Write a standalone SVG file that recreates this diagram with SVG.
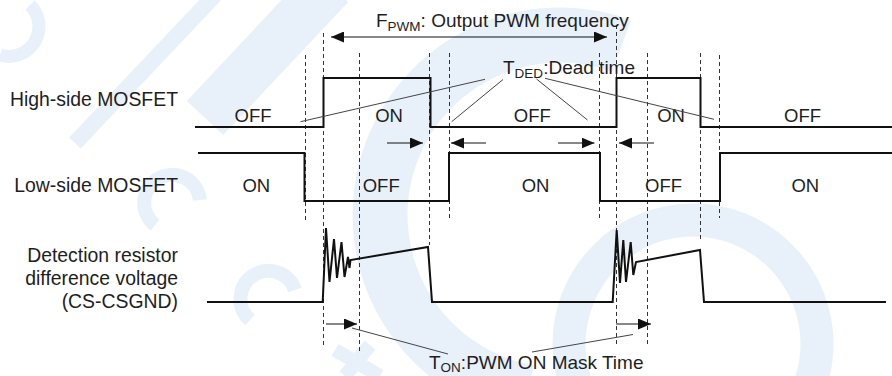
<svg xmlns="http://www.w3.org/2000/svg" width="892" height="376" viewBox="0 0 892 376">
<style>
.wm{fill:none;stroke:#e8f1fa}
.wave{fill:none;stroke:#111;stroke-width:2;stroke-linejoin:miter}
.dash{stroke:#333;stroke-width:1;stroke-dasharray:4 3}
.lead{stroke:#444;stroke-width:1;fill:none}
.arr{stroke:#111;stroke-width:1;fill:none}
text{font-family:"Liberation Sans",Arial,sans-serif;fill:#1e1e1e}
.lbl{font-size:19.4px;text-anchor:end}
.st{font-size:18.5px;text-anchor:middle}
.ann{font-size:19px}
.sub{font-size:13.5px}
</style>
<defs>
<marker id="ah" markerWidth="13" markerHeight="11" refX="13" refY="5.5" orient="auto-start-reverse" markerUnits="userSpaceOnUse"><path d="M0,0 L13,5.5 L0,11 Z" fill="#111"/></marker>
</defs>
<g id="watermark">
<path class="wm" stroke-width="55" d="M528.7,392.3 A180,180 0 1 1 621.6,45.9"/>
<circle class="wm" cx="693" cy="344" r="124" stroke-width="33"/>
<line class="wm" x1="75" y1="143" x2="215" y2="-5" stroke-width="16"/>
<line class="wm" x1="205" y1="118" x2="330" y2="-15" stroke-width="50"/>
<path class="wm" stroke-width="13" d="M0,55 A30,30 0 0 0 30,5"/>
<path class="wm" stroke-width="14" d="M155,225 A28,28 0 1 1 200,200"/>
<path class="wm" stroke-width="14" d="M250,320 A28,28 0 1 1 295,290"/>
<path class="wm" stroke-width="14" d="M335,350 L380,376 M345,376 L370,345"/>
</g>
<g id="labels">
<text class="lbl" x="178" y="106">High-side MOSFET</text>
<text class="lbl" x="178" y="191.5">Low-side MOSFET</text>
<text class="lbl" x="178" y="261.5">Detection resistor</text>
<text class="lbl" x="178" y="285">difference voltage</text>
<text class="lbl" x="178" y="308">(CS-CSGND)</text>
</g>
<g id="guides">
<line class="dash" x1="305.5" y1="55" x2="305.5" y2="220"/>
<line class="dash" x1="323.5" y1="33" x2="323.5" y2="345"/>
<line class="dash" x1="359.5" y1="53" x2="359.5" y2="352"/>
<line class="dash" x1="429.5" y1="53" x2="429.5" y2="245"/>
<line class="dash" x1="449.5" y1="53" x2="449.5" y2="218"/>
<line class="dash" x1="599.5" y1="53" x2="599.5" y2="218"/>
<line class="dash" x1="616.5" y1="25" x2="616.5" y2="345"/>
<line class="dash" x1="647.5" y1="53" x2="647.5" y2="345"/>
<line class="dash" x1="700.5" y1="53" x2="700.5" y2="242"/>
<line class="dash" x1="719.5" y1="55" x2="719.5" y2="218"/>
</g>
<g id="high-side">
<path class="wave" d="M195,127 H323.5 V78 H430.5 V127 H616.5 V78 H700.5 V127 H892"/>
<text class="st" x="253" y="121.7">OFF</text>
<text class="st" x="389" y="121.7">ON</text>
<text class="st" x="532.3" y="121.7">OFF</text>
<text class="st" x="671" y="121.7">ON</text>
<text class="st" x="802.5" y="121.7">OFF</text>
</g>
<g id="low-side">
<path class="wave" d="M198,153 H304.5 V201 H449 V153 H600 V201 H720 V153 H892"/>
<text class="st" x="256.3" y="191.7">ON</text>
<text class="st" x="381.2" y="191.7">OFF</text>
<text class="st" x="535.5" y="191.7">ON</text>
<text class="st" x="663.5" y="191.7">OFF</text>
<text class="st" x="805.3" y="191.7">ON</text>
</g>
<g id="detection">
<path class="wave" stroke-width="1.8" d="M207,302 H322.7 L326,228 L329.5,282 L334,239 L337,278 L341.5,242 L344.5,277 L348,257 L349.5,268 L350.5,260 L428,247 L432,302 H612.7 L616.7,230 L620,283 L623.3,240 L626,282 L630.7,242 L633.3,275 L636,262 L700,250 L704,302 H886"/>
</g>
<g id="connectors">
<path class="arr" d="M331,37 H607" marker-start="url(#ah)" marker-end="url(#ah)"/>
<path class="arr" d="M387,143 H423" marker-end="url(#ah)"/>
<path class="arr" d="M486,143 H451" marker-end="url(#ah)"/>
<path class="arr" d="M558,143 H594.5" marker-end="url(#ah)"/>
<path class="arr" d="M654,143 H619" marker-end="url(#ah)"/>
<path class="arr" d="M326,324 H357" marker-end="url(#ah)"/>
<path class="arr" d="M616,324 H651" marker-end="url(#ah)"/>
<path class="lead" d="M300.5,121.7 L485,79.3 M503,79.5 L451.7,121.7 M536.5,79 L587.5,120 M545,78.3 L714,119.3 M352,328 L448,354 M532,352 L633,334.5"/>
</g>
<g id="annotations">
<text class="ann" x="376" y="27">F<tspan class="sub" dy="4">PWM</tspan><tspan dy="-4">: Output PWM frequency</tspan></text>
<text class="ann" x="503" y="73.5">T<tspan class="sub" dy="4">DED</tspan><tspan dy="-4">:Dead time</tspan></text>
<text class="ann" x="429" y="369">T<tspan class="sub" dy="3">ON</tspan><tspan dy="-3">:PWM ON Mask Time</tspan></text>
</g>
</svg>
